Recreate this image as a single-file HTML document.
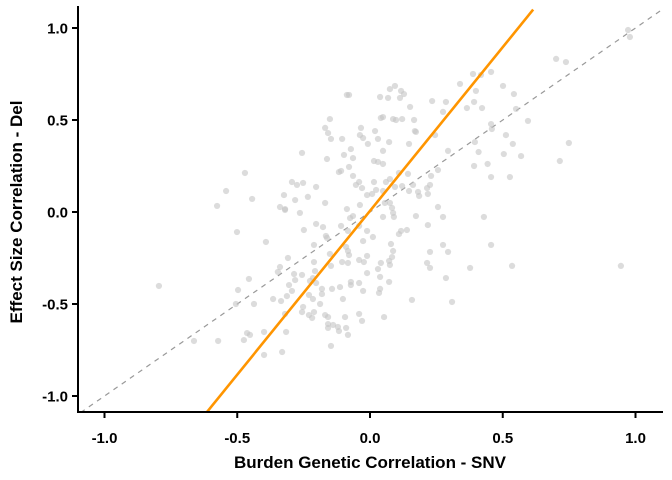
<!DOCTYPE html>
<html><head><meta charset="utf-8"><style>
html,body{margin:0;padding:0;background:#fff;width:672px;height:480px;overflow:hidden;}
svg{display:block;font-family:"Liberation Sans",Arial,sans-serif;overflow:hidden;}
</style></head><body>
<svg id="chart" width="672" height="480" viewBox="0 0 672 480" xmlns="http://www.w3.org/2000/svg">
<defs><clipPath id="clip"><rect x="79" y="6" width="585" height="406"/></clipPath></defs>
<g id="ref"></g>
<g id="pts" clip-path="url(#clip)"></g>
<g id="fit" clip-path="url(#clip)"></g>
<g id="axes"></g>
<text x="370" y="468" text-anchor="middle" font-size="17" font-weight="bold">Burden Genetic Correlation - SNV</text>
<text transform="translate(22,212) rotate(-90)" text-anchor="middle" font-size="17" font-weight="bold">Effect Size Correlation - Del</text>
</svg>
<script>
const xs = [-0.087,-0.079,-0.151,-0.169,-0.034,-0.158,-0.038,-0.026,-0.147,-0.105,-0.008,-0.072,-0.256,-0.098,-0.064,-0.162,-0.079,-0.117,-0.109,-0.471,-0.064,-0.294,-0.275,-0.252,-0.203,-0.041,-0.053,-0.030,-0.542,-0.324,-0.011,-0.444,-0.282,-0.234,-0.169,-0.576,-0.339,-0.320,-0.087,-0.038,-0.264,-0.064,
0.972,0.979,0.701,0.738,0.388,0.418,0.456,0.339,0.501,0.094,0.075,0.117,0.128,0.399,0.542,0.038,0.068,0.113,0.234,0.286,0.392,0.151,0.365,0.422,0.275,0.550,0.041,0.049,0.087,0.098,0.121,0.166,0.595,0.456,0.459,0.019,0.169,0.173,0.245,0.512,0.030,0.072,0.147,0.395,0.538,0.749,0.049,0.294,0.409,0.504,0.569,0.015,0.030,0.049,0.443,0.392,0.715,0.256,0.143,0.230,0.456,0.527,0.015,0.060,0.075,0.109,0.121,0.162,0.094,0.226,0.023,0.147,0.181,0.215,0.049,0.008,0.218,0.185,0.056,0.075,0.083,0.087,0.090,0.049,0.173,0.256,0.275,0.429,
-0.320,-0.501,-0.203,-0.177,-0.249,-0.109,-0.075,-0.041,-0.083,-0.011,-0.392,-0.166,-0.162,-0.211,-0.090,-0.083,-0.079,-0.026,-0.151,-0.309,-0.211,-0.105,-0.083,-0.041,-0.023,-0.011,-0.147,-0.339,-0.347,-0.207,-0.286,-0.256,-0.011,-0.795,-0.456,-0.282,-0.226,-0.215,-0.203,-0.305,-0.072,-0.072,-0.041,-0.497,-0.294,-0.181,-0.143,-0.113,-0.026,-0.313,-0.230,-0.181,-0.365,-0.335,-0.215,-0.102,-0.437,-0.505,-0.188,-0.252,-0.256,-0.211,-0.320,-0.230,-0.218,-0.169,-0.158,-0.094,-0.041,-0.030,-0.158,-0.139,-0.121,-0.158,-0.117,-0.090,-0.083,-0.463,-0.452,-0.399,-0.316,-0.663,-0.572,-0.475,-0.147,-0.399,-0.331,
0.218,0.011,0.117,0.109,0.139,0.079,0.087,0.275,0.456,0.226,0.294,0.083,0.041,0.072,0.075,0.215,0.226,0.030,0.377,0.535,0.945,0.038,0.072,0.286,0.038,0.034,0.158,0.309,0.053];
const ys = [0.636,0.636,0.505,0.457,0.457,0.429,0.418,0.402,0.397,0.397,0.370,0.342,0.321,0.310,0.293,0.288,0.245,0.217,0.223,0.212,0.196,0.163,0.147,0.158,0.136,0.163,0.147,0.130,0.114,0.092,0.092,0.071,0.065,0.082,0.049,0.033,0.027,0.016,0.016,0.038,-0.005,-0.022,
0.989,0.951,0.832,0.815,0.750,0.745,0.761,0.696,0.685,0.685,0.668,0.658,0.641,0.658,0.641,0.625,0.620,0.620,0.603,0.598,0.598,0.571,0.565,0.565,0.544,0.560,0.511,0.516,0.505,0.500,0.505,0.500,0.495,0.478,0.451,0.440,0.440,0.435,0.418,0.418,0.397,0.380,0.370,0.380,0.370,0.375,0.332,0.332,0.326,0.315,0.304,0.277,0.272,0.261,0.261,0.250,0.277,0.228,0.207,0.196,0.190,0.190,0.163,0.163,0.179,0.212,0.141,0.147,0.136,0.147,0.120,0.114,0.109,0.130,0.114,0.098,0.098,0.087,0.049,0.049,0.022,-0.005,-0.027,-0.027,-0.022,0.027,-0.027,-0.027,
0.011,-0.109,-0.065,-0.082,-0.098,-0.076,-0.033,-0.076,-0.103,-0.103,-0.163,-0.130,-0.141,-0.179,-0.190,-0.212,-0.234,-0.158,-0.228,-0.250,-0.272,-0.272,-0.277,-0.261,-0.272,-0.239,-0.293,-0.299,-0.326,-0.321,-0.337,-0.342,-0.332,-0.402,-0.364,-0.370,-0.375,-0.359,-0.386,-0.397,-0.380,-0.397,-0.386,-0.424,-0.429,-0.418,-0.418,-0.408,-0.429,-0.457,-0.451,-0.446,-0.473,-0.484,-0.473,-0.473,-0.500,-0.500,-0.500,-0.516,-0.544,-0.544,-0.554,-0.560,-0.576,-0.560,-0.571,-0.571,-0.554,-0.592,-0.609,-0.614,-0.625,-0.630,-0.647,-0.630,-0.668,-0.658,-0.668,-0.652,-0.652,-0.701,-0.701,-0.696,-0.728,-0.777,-0.761,
-0.071,-0.136,-0.103,-0.120,-0.098,-0.174,-0.212,-0.179,-0.179,-0.217,-0.217,-0.245,-0.277,-0.266,-0.288,-0.277,-0.304,-0.310,-0.304,-0.293,-0.293,-0.353,-0.380,-0.359,-0.418,-0.440,-0.478,-0.489,-0.571];
const xTicks = [-1.0,-0.5,0.0,0.5,1.0];
const yTicks = [-1.0,-0.5,0.0,0.5,1.0];
const xTickLabels = ["-1.0","-0.5","0.0","0.5","1.0"];
const yTickLabels = ["-1.0","-0.5","0.0","0.5","1.0"];
const fitSlope = [1.78];
const fitIntercept = [0.006];
const xDomain = [-1.1, 1.1];
const yDomain = [-1.09, 1.1];

const NS = "http://www.w3.org/2000/svg";
const sx = v => 370 + v * 265.5;
const sy = v => 212 - v * 184;
function mk(tag, attrs, parent){ const e=document.createElementNS(NS,tag); for(const k in attrs) e.setAttribute(k,attrs[k]); parent.appendChild(e); return e; }

const ref = document.getElementById('ref');
const rl = mk('line',{x1:sx(-1.09),y1:sy(-1.09),x2:sx(1.1),y2:sy(1.1),stroke:'#999','stroke-width':1.2,'stroke-dasharray':'5,5'},ref);



const pg = document.getElementById('pts');
for (let i=0;i<xs.length;i++){
  const c = mk('circle',{cx:sx(xs[i]),cy:sy(ys[i]),r:3.1,fill:'#c4c4c4','fill-opacity':0.6},pg);
  
  
}

const fg = document.getElementById('fit');
const fy0 = yDomain[0], fy1 = yDomain[1];
const fx0 = (fy0 - fitIntercept[0]) / fitSlope[0];
const fx1 = (fy1 - fitIntercept[0]) / fitSlope[0];
const fl = mk('line',{x1:sx(fx0),y1:sy(fy0),x2:sx(fx1),y2:sy(fy1),stroke:'#ff9500','stroke-width':2.6},fg);



const ag = document.getElementById('axes');
const xa = mk('line',{x1:78,y1:412,x2:663,y2:412,stroke:'#000','stroke-width':2},ag);


const ya = mk('line',{x1:78,y1:6,x2:78,y2:413,stroke:'#000','stroke-width':2},ag);


xTicks.forEach((t,i)=>{
  const tk = mk('line',{x1:sx(t),y1:412,x2:sx(t),y2:418,stroke:'#000','stroke-width':2},ag);
  
  
  const tl = mk('text',{x:sx(t),y:443,'text-anchor':'middle','font-size':15,'font-weight':'bold'},ag);
  tl.textContent = xTickLabels[i];
  
  
});
yTicks.forEach((t,i)=>{
  const tk = mk('line',{x1:72,y1:sy(t),x2:78,y2:sy(t),stroke:'#000','stroke-width':2},ag);
  
  
  const tl = mk('text',{x:68,y:sy(t)+5.5,'text-anchor':'end','font-size':15,'font-weight':'bold'},ag);
  tl.textContent = yTickLabels[i];
  
  
});
</script>
</body></html>
